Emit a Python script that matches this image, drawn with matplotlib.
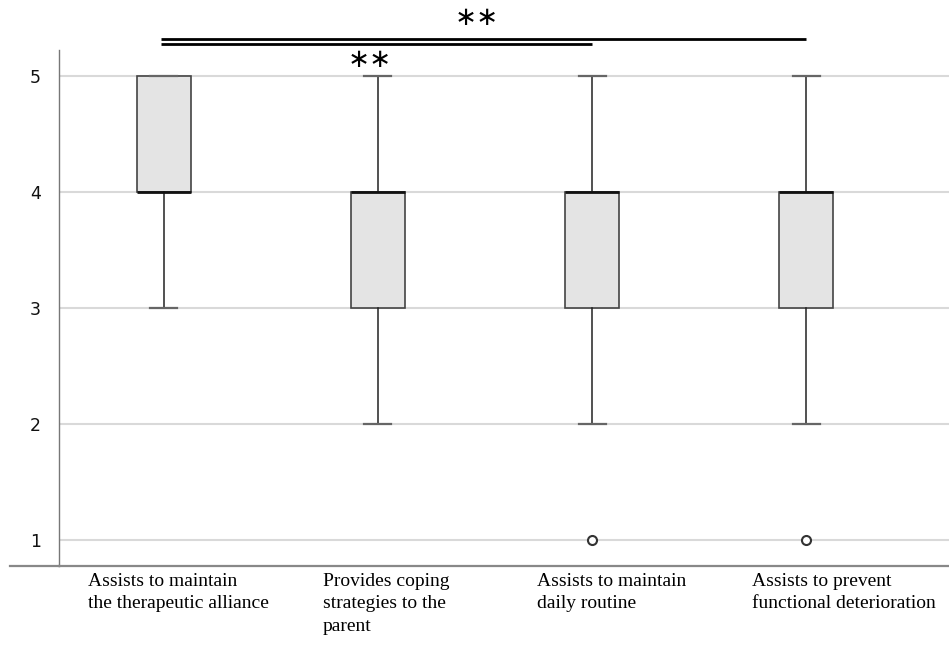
import matplotlib
matplotlib.use("Agg")
import matplotlib.pyplot as plt
from matplotlib.lines import Line2D
from matplotlib.transforms import offset_copy

categories = [
    "Assists to maintain\nthe therapeutic alliance",
    "Provides coping\nstrategies to the\nparent",
    "Assists to maintain\ndaily routine",
    "Assists to prevent\nfunctional deterioration",
]
q1 = [4, 3, 3, 3]
q3 = [5, 4, 4, 4]
medians = [4, 4, 4, 4]
whisker_low = [3, 2, 2, 2]
whisker_high = [5, 5, 5, 5]
outliers = [[], [], [1], [1]]

# significance brackets: (from index, to index, label)
brackets = [(0, 3, "\u2217\u2217"), (0, 2, "\u2217\u2217")]

positions = list(range(1, len(categories) + 1))
stats = [
    dict(med=m, q1=a, q3=b, whislo=lo, whishi=hi, fliers=f)
    for m, a, b, lo, hi, f in zip(medians, q1, q3, whisker_low, whisker_high, outliers)
]

fig = plt.figure(figsize=(9.49, 6.5), dpi=100)
ax = fig.add_axes([59 / 949, 1 - 566 / 650, 1 - 59 / 949, (566 - 50) / 650])

ax.set_xlim(0.512, 4.665)
ax.set_ylim(0.776, 5.224)

for y in [1, 2, 3, 4, 5]:
    ax.axhline(y, color="#d9d9d9", linewidth=1.5, zorder=0)

ax.bxp(
    stats,
    positions=positions,
    widths=0.252,
    patch_artist=True,
    boxprops=dict(facecolor="#e4e4e4", edgecolor="#444444", linewidth=1.2),
    medianprops=dict(color="#111111", linewidth=2),
    whiskerprops=dict(color="#222222", linewidth=1.1),
    capprops=dict(color="#666666", linewidth=1.6),
    flierprops=dict(marker="o", markersize=6.5, markerfacecolor="white",
                    markeredgecolor="#333333", markeredgewidth=1.5),
    zorder=3,
)

for side in ["top", "right"]:
    ax.spines[side].set_visible(False)
ax.spines["left"].set_color("#777777")
ax.spines["left"].set_linewidth(1)
ax.spines["bottom"].set_color("#888888")
ax.spines["bottom"].set_linewidth(1.6)

# bottom axis line runs past the y axis to the left
fig.add_artist(Line2D([10 / 949, 59 / 949], [1 - 566 / 650] * 2,
                      color="#888888", linewidth=1.6))

ax.set_yticks([1, 2, 3, 4, 5])
ax.tick_params(axis="y", length=0, pad=13, labelsize=12.5, labelcolor="#111111")
for t in ax.get_yticklabels():
    t.set_fontfamily("DejaVu Sans")

ax.set_xticks(positions)
ax.set_xticklabels(categories, ha="left", va="top", fontsize=14,
                   fontfamily="Liberation Serif", linespacing=1.42)
ax.tick_params(axis="x", length=0, pad=5)
shifts = [-76, -55, -55, -54]
for t, dx in zip(ax.get_xticklabels(), shifts):
    t.set_transform(offset_copy(t.get_transform(), fig=fig, x=dx, y=0, units="dots"))

# significance brackets
line_y = [5.319, 5.276]
star_y = [5.5, 5.14]
for (i, j, lab), ly, sy in zip(brackets, line_y, star_y):
    ax.plot([positions[i] - 0.012, positions[j]], [ly, ly], color="black",
            linewidth=2, clip_on=False, solid_capstyle="butt")
    ax.text((positions[i] + positions[j]) / 2 - 0.04, sy, lab, ha="center",
            va="center", fontsize=19, clip_on=False, fontfamily="DejaVu Sans")

fig.savefig("out.png", dpi=100)
